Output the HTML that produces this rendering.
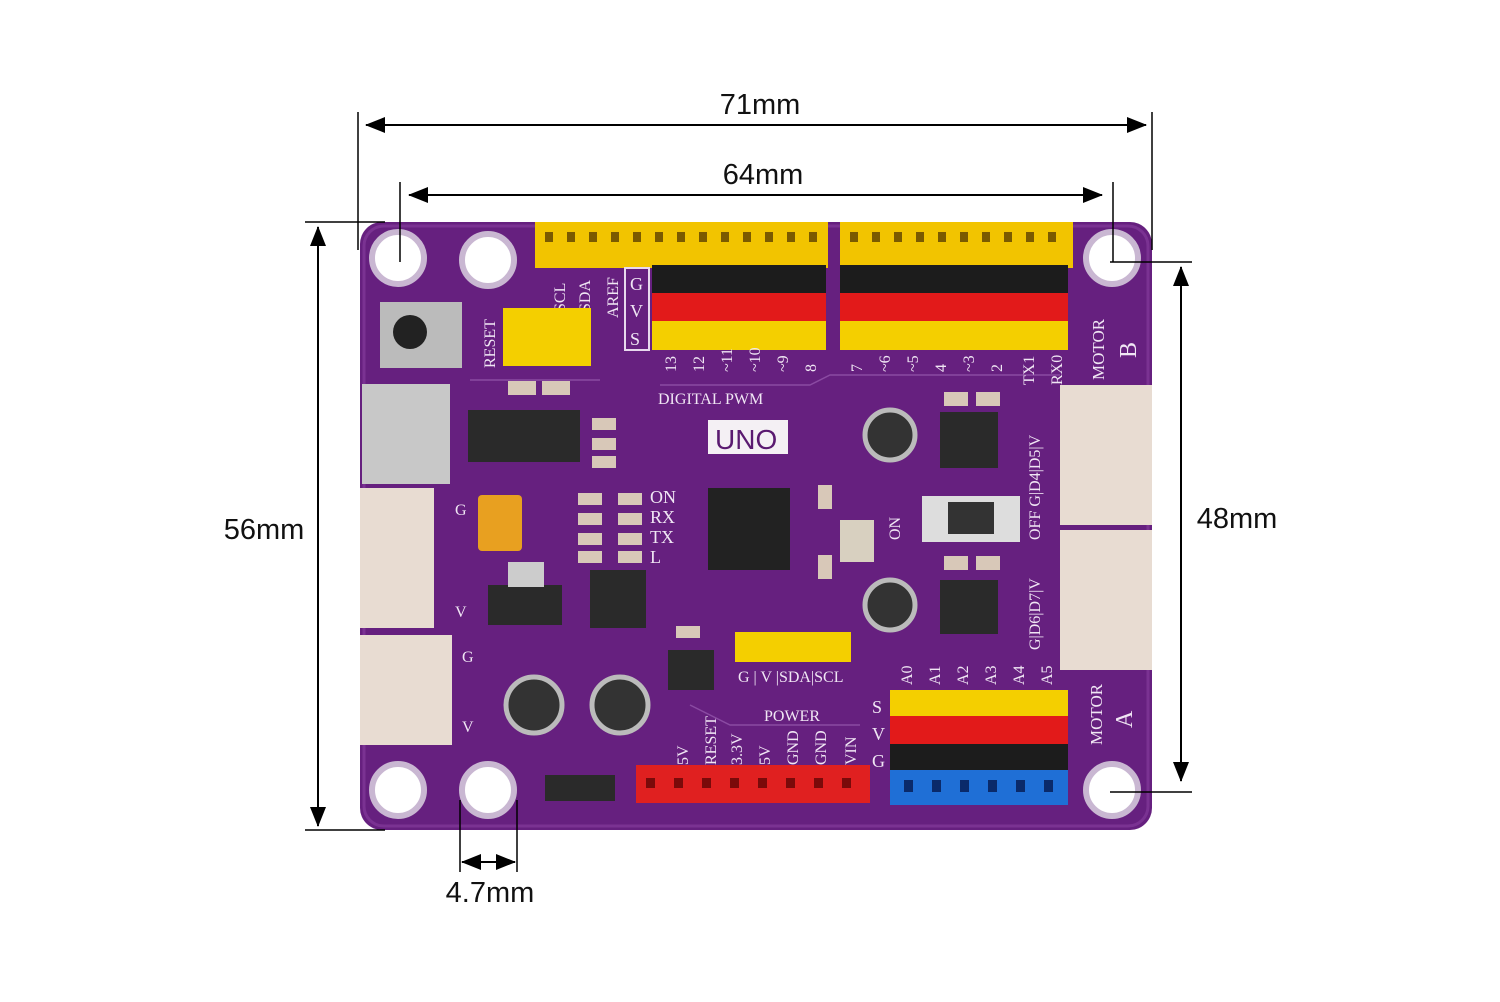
<!DOCTYPE html>
<html><head><meta charset="utf-8"><style>
html,body{margin:0;padding:0;background:#fff}
svg{display:block}
text{font-family:"Liberation Sans",sans-serif}
text.s,.s text{font-family:"Liberation Serif",serif;fill:#f0e6f4}
</style></head><body>
<svg width="1500" height="1002" viewBox="0 0 1500 1002" xmlns="http://www.w3.org/2000/svg">
<defs>
<marker id="a" markerWidth="20" markerHeight="20" refX="19" refY="10" orient="auto-start-reverse" markerUnits="userSpaceOnUse" viewBox="0 0 20 20"><path d="M0,2 L20,10 L0,18z" fill="#000"/></marker>
</defs>
<!-- board -->
<rect x="360" y="222" width="792" height="608" rx="22" fill="#66207f"/>
<rect x="364" y="226" width="784" height="600" rx="20" fill="none" stroke="#7a3292" stroke-width="3"/>
<g fill="none" stroke="#8a4aa2" stroke-width="1.5">
<path d="M660 385 L810 385 L830 375 L1060 375"/>
<path d="M690 705 L730 725 L860 725"/>
<path d="M470 380 L600 380"/>
</g>
<!-- holes -->
<g fill="#fff" stroke="#c9b7d2" stroke-width="6">
<circle cx="398" cy="258" r="26"/><circle cx="488" cy="260" r="26"/><circle cx="1112" cy="258" r="26"/>
<circle cx="398" cy="790" r="26"/><circle cx="488" cy="790" r="26"/><circle cx="1112" cy="790" r="26"/>
</g>
<!-- top headers -->
<rect x="535" y="222" width="293" height="46" fill="#f2c400"/>
<rect x="840" y="222" width="233" height="46" fill="#f2c400"/>
<g fill="#7a5a00">
<rect x="545" y="232" width="8" height="10"/><rect x="567" y="232" width="8" height="10"/><rect x="589" y="232" width="8" height="10"/><rect x="611" y="232" width="8" height="10"/><rect x="633" y="232" width="8" height="10"/><rect x="655" y="232" width="8" height="10"/><rect x="677" y="232" width="8" height="10"/><rect x="699" y="232" width="8" height="10"/><rect x="721" y="232" width="8" height="10"/><rect x="743" y="232" width="8" height="10"/><rect x="765" y="232" width="8" height="10"/><rect x="787" y="232" width="8" height="10"/><rect x="809" y="232" width="8" height="10"/>
<rect x="850" y="232" width="8" height="10"/><rect x="872" y="232" width="8" height="10"/><rect x="894" y="232" width="8" height="10"/><rect x="916" y="232" width="8" height="10"/><rect x="938" y="232" width="8" height="10"/><rect x="960" y="232" width="8" height="10"/><rect x="982" y="232" width="8" height="10"/><rect x="1004" y="232" width="8" height="10"/><rect x="1026" y="232" width="8" height="10"/><rect x="1048" y="232" width="8" height="10"/>
</g>
<!-- GVS rows top -->
<rect x="652" y="265" width="174" height="28" fill="#1c1c1c"/>
<rect x="652" y="293" width="174" height="28" fill="#e21a1a"/>
<rect x="652" y="321" width="174" height="29" fill="#f4cf00"/>
<rect x="840" y="265" width="228" height="28" fill="#1c1c1c"/>
<rect x="840" y="293" width="228" height="28" fill="#e21a1a"/>
<rect x="840" y="321" width="228" height="29" fill="#f4cf00"/>
<rect x="625" y="268" width="24" height="82" fill="none" stroke="#e8d8ee" stroke-width="2"/>
<text class="s" x="630" y="290" font-size="18">G</text><text class="s" x="630" y="317" font-size="18">V</text><text class="s" x="630" y="345" font-size="18">S</text>
<!-- pin labels -->
<g class="s" font-size="16">
<text x="676" y="372" transform="rotate(-90 676 372)">13</text><text x="704" y="372" transform="rotate(-90 704 372)">12</text><text x="732" y="372" transform="rotate(-90 732 372)">~11</text><text x="760" y="372" transform="rotate(-90 760 372)">~10</text><text x="788" y="372" transform="rotate(-90 788 372)">~9</text><text x="816" y="372" transform="rotate(-90 816 372)">8</text>
<text x="862" y="372" transform="rotate(-90 862 372)">7</text><text x="890" y="372" transform="rotate(-90 890 372)">~6</text><text x="918" y="372" transform="rotate(-90 918 372)">~5</text><text x="946" y="372" transform="rotate(-90 946 372)">4</text><text x="974" y="372" transform="rotate(-90 974 372)">~3</text><text x="1002" y="372" transform="rotate(-90 1002 372)">2</text><text x="1034" y="385" transform="rotate(-90 1034 385)">TX1</text><text x="1062" y="385" transform="rotate(-90 1062 385)">RX0</text>
<text x="658" y="404">DIGITAL PWM</text>
<text x="495" y="368" transform="rotate(-90 495 368)">RESET</text>
<text x="565" y="312" transform="rotate(-90 565 312)">SCL</text><text x="590" y="312" transform="rotate(-90 590 312)">SDA</text><text x="618" y="318" transform="rotate(-90 618 318)">AREF</text>
<text x="1104" y="380" transform="rotate(-90 1104 380)" font-size="17">MOTOR</text><text x="1136" y="358" transform="rotate(-90 1136 358)" font-size="24">B</text>
<text x="1102" y="745" transform="rotate(-90 1102 745)" font-size="17">MOTOR</text><text x="1132" y="728" transform="rotate(-90 1132 728)" font-size="24">A</text>
<text x="650" y="503" font-size="18">ON</text><text x="650" y="523" font-size="18">RX</text><text x="650" y="543" font-size="18">TX</text><text x="650" y="563" font-size="18">L</text>
<text x="738" y="682">G | V |SDA|SCL</text>
<text x="764" y="721">POWER</text>
<text x="455" y="515">G</text><text x="455" y="617">V</text><text x="462" y="662">G</text><text x="462" y="732">V</text>
<text x="900" y="540" transform="rotate(-90 900 540)">ON</text>
<text x="1040" y="540" transform="rotate(-90 1040 540)">OFF G|D4|D5|V</text>
<text x="1040" y="650" transform="rotate(-90 1040 650)">G|D6|D7|V</text>
</g>
<!-- UNO -->
<rect x="708" y="420" width="80" height="34" fill="#f4f0f4"/>
<text x="715" y="449" font-size="28" fill="#5a1a70">UNO</text>
<!-- chips -->
<rect x="708" y="488" width="82" height="82" fill="#222"/>
<rect x="468" y="410" width="112" height="52" fill="#2a2a2a"/>
<rect x="590" y="570" width="56" height="58" fill="#2a2a2a"/>
<rect x="940" y="412" width="58" height="56" fill="#2a2a2a"/>
<rect x="940" y="580" width="58" height="54" fill="#2a2a2a"/>
<rect x="488" y="585" width="74" height="40" fill="#2a2a2a"/>
<rect x="508" y="562" width="36" height="25" fill="#ccc"/>
<rect x="668" y="650" width="46" height="40" fill="#2a2a2a"/>
<rect x="545" y="775" width="70" height="26" fill="#2a2a2a"/>
<rect x="478" y="495" width="44" height="56" rx="4" fill="#e8a020"/>
<!-- small smd parts -->
<g fill="#d8c8b8">
<rect x="508" y="381" width="28" height="14"/><rect x="542" y="381" width="28" height="14"/>
<rect x="592" y="418" width="24" height="12"/><rect x="592" y="438" width="24" height="12"/><rect x="592" y="456" width="24" height="12"/>
<rect x="578" y="493" width="24" height="12"/><rect x="578" y="513" width="24" height="12"/><rect x="578" y="533" width="24" height="12"/><rect x="578" y="551" width="24" height="12"/>
<rect x="618" y="493" width="24" height="12"/><rect x="618" y="513" width="24" height="12"/><rect x="618" y="533" width="24" height="12"/><rect x="618" y="551" width="24" height="12"/>
<rect x="818" y="485" width="14" height="24"/><rect x="818" y="555" width="14" height="24"/>
<rect x="944" y="392" width="24" height="14"/><rect x="976" y="392" width="24" height="14"/>
<rect x="944" y="556" width="24" height="14"/><rect x="976" y="556" width="24" height="14"/>
<rect x="676" y="626" width="24" height="12"/>
</g>
<!-- caps -->
<circle cx="890" cy="435" r="25" fill="#333" stroke="#bbb" stroke-width="5"/>
<circle cx="890" cy="605" r="25" fill="#333" stroke="#bbb" stroke-width="5"/>
<circle cx="534" cy="705" r="28" fill="#333" stroke="#bbb" stroke-width="5"/>
<circle cx="620" cy="705" r="28" fill="#333" stroke="#bbb" stroke-width="5"/>
<!-- switch -->
<rect x="922" y="496" width="98" height="46" fill="#ddd"/><rect x="948" y="502" width="46" height="32" fill="#333"/>
<rect x="840" y="520" width="34" height="42" fill="#d8d0c0"/>
<!-- reset button -->
<rect x="380" y="302" width="82" height="66" fill="#bbb"/><circle cx="410" cy="332" r="17" fill="#222"/>
<!-- USB C -->
<rect x="362" y="384" width="88" height="100" fill="#c8c8c8"/>
<!-- white connectors -->
<rect x="360" y="488" width="74" height="140" fill="#e8dcd2"/>
<rect x="360" y="635" width="92" height="110" fill="#e8dcd2"/>
<rect x="1060" y="385" width="92" height="140" fill="#e8dcd2"/>
<rect x="1060" y="530" width="92" height="140" fill="#e8dcd2"/>
<!-- yellow small headers -->
<rect x="503" y="308" width="88" height="58" fill="#f4cf00"/>
<rect x="735" y="632" width="116" height="30" fill="#f4cf00"/>
<!-- bottom right headers -->
<rect x="890" y="690" width="178" height="26" fill="#f4cf00"/>
<rect x="890" y="716" width="178" height="28" fill="#e21a1a"/>
<rect x="890" y="744" width="178" height="26" fill="#1c1c1c"/>
<rect x="890" y="770" width="178" height="35" fill="#1f6fd6"/>
<g fill="#0a2a6a"><rect x="904" y="780" width="9" height="12"/><rect x="932" y="780" width="9" height="12"/><rect x="960" y="780" width="9" height="12"/><rect x="988" y="780" width="9" height="12"/><rect x="1016" y="780" width="9" height="12"/><rect x="1044" y="780" width="9" height="12"/></g>
<g class="s" font-size="16">
<text x="912" y="685" transform="rotate(-90 912 685)">A0</text><text x="940" y="685" transform="rotate(-90 940 685)">A1</text><text x="968" y="685" transform="rotate(-90 968 685)">A2</text><text x="996" y="685" transform="rotate(-90 996 685)">A3</text><text x="1024" y="685" transform="rotate(-90 1024 685)">A4</text><text x="1052" y="685" transform="rotate(-90 1052 685)">A5</text>
<text x="872" y="713" font-size="18">S</text><text x="872" y="740" font-size="18">V</text><text x="872" y="767" font-size="18">G</text>
<text x="688" y="765" transform="rotate(-90 688 765)">5V</text><text x="716" y="765" transform="rotate(-90 716 765)">RESET</text><text x="742" y="765" transform="rotate(-90 742 765)">3.3V</text><text x="770" y="765" transform="rotate(-90 770 765)">5V</text><text x="798" y="765" transform="rotate(-90 798 765)">GND</text><text x="826" y="765" transform="rotate(-90 826 765)">GND</text><text x="856" y="765" transform="rotate(-90 856 765)">VIN</text>
</g>
<rect x="636" y="765" width="234" height="38" fill="#e02020"/>
<g fill="#7a0a0a"><rect x="646" y="778" width="9" height="10"/><rect x="674" y="778" width="9" height="10"/><rect x="702" y="778" width="9" height="10"/><rect x="730" y="778" width="9" height="10"/><rect x="758" y="778" width="9" height="10"/><rect x="786" y="778" width="9" height="10"/><rect x="814" y="778" width="9" height="10"/><rect x="842" y="778" width="9" height="10"/></g>
<!-- dimension lines -->
<g stroke="#000" stroke-width="1.5">
<line x1="358" y1="112" x2="358" y2="250"/><line x1="1152" y1="112" x2="1152" y2="250"/>
<line x1="400" y1="182" x2="400" y2="262"/><line x1="1113" y1="182" x2="1113" y2="262"/>
<line x1="1110" y1="262" x2="1192" y2="262"/><line x1="1110" y1="792" x2="1192" y2="792"/>
<line x1="305" y1="222" x2="385" y2="222"/><line x1="305" y1="830" x2="385" y2="830"/>
<line x1="460" y1="800" x2="460" y2="872"/><line x1="517" y1="800" x2="517" y2="872"/>
<line x1="366" y1="125" x2="1146" y2="125" marker-start="url(#a)" marker-end="url(#a)" stroke-width="2"/>
<line x1="409" y1="195" x2="1102" y2="195" marker-start="url(#a)" marker-end="url(#a)" stroke-width="2"/>
<line x1="318" y1="227" x2="318" y2="826" marker-start="url(#a)" marker-end="url(#a)" stroke-width="2"/>
<line x1="1181" y1="267" x2="1181" y2="781" marker-start="url(#a)" marker-end="url(#a)" stroke-width="2"/>
<line x1="462" y1="862" x2="515" y2="862" marker-start="url(#a)" marker-end="url(#a)" stroke-width="2"/>
</g>
<g font-size="29" fill="#111" text-anchor="middle">
<text x="760" y="114">71mm</text><text x="763" y="184">64mm</text>
<text x="264" y="539">56mm</text><text x="1237" y="528">48mm</text><text x="490" y="902">4.7mm</text>
</g>
</svg>
</body></html>
